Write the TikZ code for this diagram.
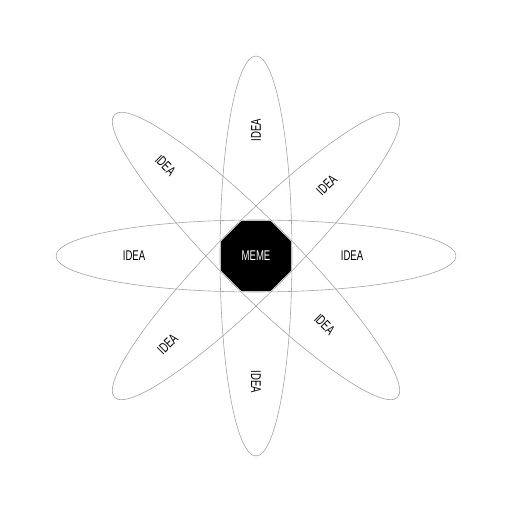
\documentclass[tikz,border=0pt]{standalone}
\usepackage{fontspec}
\setmainfont{Liberation Sans}[FakeStretch=0.68]
\usetikzlibrary{positioning, shapes}

\begin{document}
\begin{tikzpicture}[x=0.025cm, y=0.025cm, orbit/.style={draw=gray!75, line width=.4pt},
  idea/.style={inner sep=0pt, font=\fontsize{10}{12}\selectfont},
  meme/.style={regular polygon, regular polygon sides=8, fill=black, inner sep=0pt, minimum size=1.9cm, text=white, font=\fontsize{10}{12}\selectfont}]
  \useasboundingbox (0,0) rectangle (512,512);
  \coordinate (c) at (256,256);
  \foreach \a in {0,45,90,135}
    \draw[orbit, rotate around={\a:(c)}] (c) ellipse (200 and 36);
  \node[meme] (meme) at (c) {MEME};
  \node[idea] (idear)  at ([shift={(0:96)}]c)    {IDEA};
  \node[idea, rotate=45]  (ideatr) at ([shift={(45:100)}]c)  {IDEA};
  \node[idea, rotate=90]  (ideat)  at ([shift={(90:126)}]c)  {IDEA};
  \node[idea, rotate=-45] (ideatl) at ([shift={(135:128)}]c) {IDEA};
  \node[idea] (ideal)  at ([shift={(180:122)}]c) {IDEA};
  \node[idea, rotate=45]  (ideabl) at ([shift={(225:125)}]c) {IDEA};
  \node[idea, rotate=-90] (ideab)  at ([shift={(270:126)}]c) {IDEA};
  \node[idea, rotate=-45] (ideabr) at ([shift={(315:97)}]c)  {IDEA};
\end{tikzpicture}
\end{document}
